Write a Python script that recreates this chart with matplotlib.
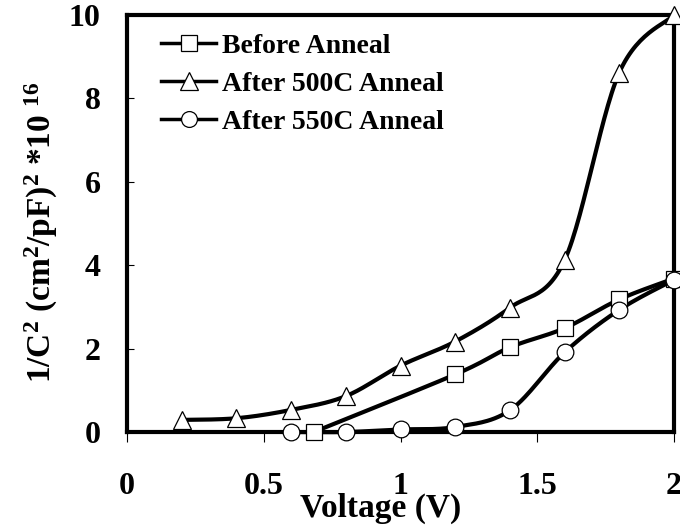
import numpy as np
import matplotlib
matplotlib.use("Agg")
import matplotlib.pyplot as plt

plt.rcParams['font.family'] = ['Liberation Serif', 'DejaVu Serif']
plt.rcParams['font.weight'] = 'bold'
plt.rcParams['mathtext.fontset'] = 'custom'
plt.rcParams['mathtext.rm'] = 'Liberation Serif:bold'
plt.rcParams['mathtext.bf'] = 'Liberation Serif:bold'
plt.rcParams['mathtext.it'] = 'Liberation Serif:bold'

# ---- data ----
before_x = [0.683, 1.2, 1.4, 1.6, 1.8, 2.0]
before_y = [0.0, 1.38, 2.03, 2.49, 3.18, 3.68]

a500_x = [0.2, 0.4, 0.6, 0.8, 1.0, 1.2, 1.4, 1.6, 1.8, 2.0]
a500_y = [0.29, 0.33, 0.53, 0.86, 1.59, 2.17, 2.98, 4.12, 8.62, 10.0]

a550_x = [0.6, 0.8, 1.0, 1.2, 1.4, 1.6, 1.8, 2.0]
a550_y = [0.0, 0.0, 0.06, 0.12, 0.52, 1.91, 2.93, 3.65]

labels = ['Before Anneal', 'After 500C Anneal', 'After 550C Anneal']
xticks = [0, 0.5, 1, 1.5, 2]
xticklabels = ['0', '0.5', '1', '1.5', '2']
yticks = [0, 2, 4, 6, 8, 10]
yticklabels = ['0', '2', '4', '6', '8', '10']


def smooth(xs, ys, n=30):
    """Catmull-Rom style smoothing (like spreadsheet smoothed lines)."""
    P = np.column_stack([xs, ys]).astype(float)
    P = np.vstack([P[0], P, P[-1]])
    out = []
    t = np.linspace(0, 1, n)[:, None]
    for i in range(1, len(P) - 2):
        p0, p1, p2, p3 = P[i - 1], P[i], P[i + 1], P[i + 2]
        b1 = p1 + (p2 - p0) / 6.0
        b2 = p2 - (p3 - p1) / 6.0
        seg = ((1 - t) ** 3) * p1 + 3 * ((1 - t) ** 2) * t * b1 + 3 * (1 - t) * t ** 2 * b2 + t ** 3 * p2
        out.append(seg if i == 1 else seg[1:])
    out = np.vstack(out)
    return out[:, 0], out[:, 1]


fig = plt.figure(figsize=(6.8, 5.25), dpi=100)
ax = fig.add_axes([127 / 680, 93 / 525, 547 / 680, 417 / 525])

series = [
    (before_x, before_y, 's', 11.5),
    (a500_x, a500_y, '^', 13),
    (a550_x, a550_y, 'o', 12),
]
handles = []
for (xs, ys, mk, ms), lab in zip(series, labels):
    sx, sy = smooth(xs, ys)
    ax.plot(sx, sy, color='black', lw=3.0, solid_capstyle='round', zorder=2, clip_on=False)
    ax.plot(xs, ys, linestyle='none', marker=mk, ms=ms, mfc='white', mec='black',
            mew=0.9, zorder=3, clip_on=False)
    h, = ax.plot([], [], color='black', lw=2.5, marker=mk, ms=ms * 0.95, mfc='white',
                 mec='black', mew=0.9, label=lab)
    handles.append(h)

ax.set_xlim(0, 2)
ax.set_ylim(0, 10)
ax.set_xticks(xticks)
ax.set_xticklabels(xticklabels)
ax.set_yticks(yticks)
ax.set_yticklabels(yticklabels)
ax.tick_params(axis='x', direction='out', length=7, width=0.8, pad=22, labelsize=23)
ax.tick_params(axis='y', direction='in', length=5, width=0.8, pad=19, labelsize=23)
for s in ax.spines.values():
    s.set_linewidth(3.0)

ax.set_xlabel('Voltage (V)', fontsize=24, fontweight='bold')
ax.xaxis.set_label_coords(0.463, -0.145)
ax.set_ylabel(r'1/C$^{2}$ (cm$^{2}$/pF)$^{2}$ *10 $^{16}$', fontsize=24, fontweight='bold')
ax.yaxis.set_label_coords(-0.122, 0.48)

leg = ax.legend(handles=handles, loc='upper left', bbox_to_anchor=(0.062, 0.955),
                frameon=False, fontsize=20, handlelength=2.0, handletextpad=0.2,
                labelspacing=0.45, borderpad=0, borderaxespad=0)

fig.savefig('out.png', dpi=100)
